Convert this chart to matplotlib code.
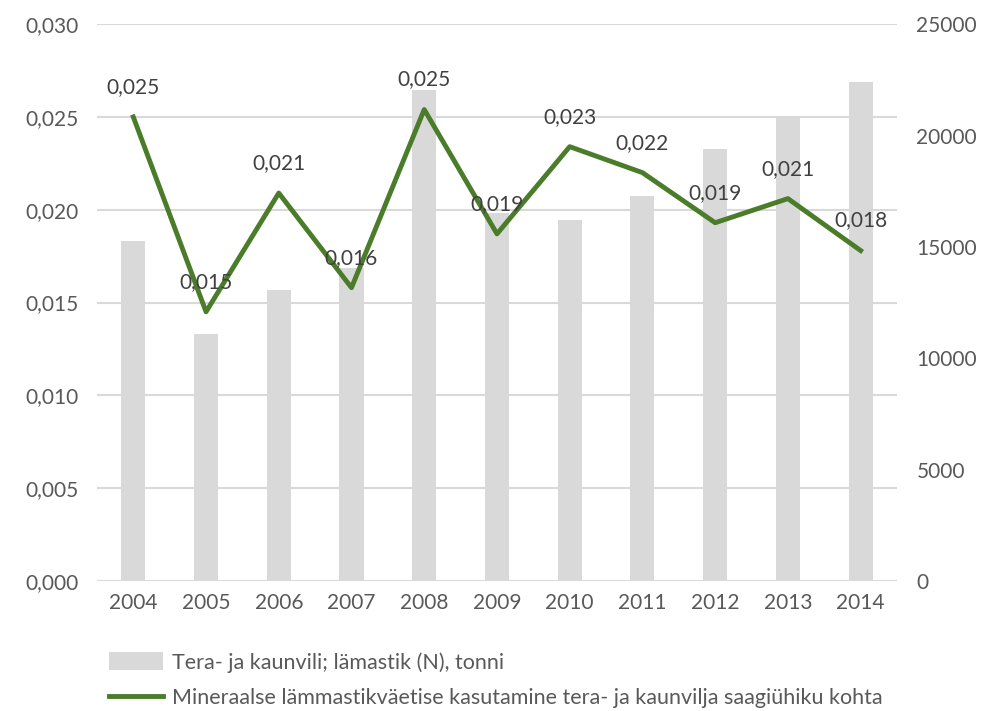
import numpy as np
import matplotlib.pyplot as plt
from matplotlib.patches import Patch
from matplotlib.lines import Line2D

plt.rcParams['font.family'] = ['Lato', 'DejaVu Sans']

years = ['2004', '2005', '2006', '2007', '2008', '2009', '2010', '2011', '2012', '2013', '2014']
nitrogen_tonnes = [15260, 11090, 13060, 14050, 22040, 16520, 16200, 17280, 19390, 20830, 22400]
usage_per_unit = [0.0250, 0.0145, 0.0209, 0.0158, 0.0254, 0.0187, 0.0234, 0.0220, 0.0193, 0.0206, 0.0178]
usage_labels = ['0,025', '0,015', '0,021', '0,016', '0,025', '0,019', '0,023', '0,022', '0,019', '0,021', '0,018']

bar_label = 'Tera- ja kaunvili; lämastik (N), tonni'
line_label = 'Mineraalse lämmastikväetise kasutamine tera- ja kaunvilja saagiühiku kohta'

text_col = '#595959'
green = '#4a7c2a'
grey = '#d9d9d9'

fig = plt.figure(figsize=(9.89, 7.11), dpi=100)
ax = fig.add_axes([0.098, 0.183, 0.809, 0.783])
ax2 = ax.twinx()

x = np.arange(len(years))

# bars on the right axis
ax2.bar(x, nitrogen_tonnes, width=0.33, color=grey, zorder=1)
ax2.set_ylim(0, 25000)
ax2.set_yticks(np.arange(0, 25001, 5000))

# line on the left axis, drawn above the bars
ax.set_zorder(ax2.get_zorder() + 1)
ax.patch.set_visible(False)
ax.plot(x, usage_per_unit, color=green, lw=3.5, zorder=3)
for xi, v, lab in zip(x, usage_per_unit, usage_labels):
    ax.annotate(lab, (xi, v), xytext=(0, 30), textcoords='offset pixels',
                ha='center', va='center', fontsize=15, color='#404040')

ax.set_ylim(0, 0.030)
ax.set_yticks(np.arange(0, 0.0301, 0.005))
ax.set_yticklabels([f'{t:.3f}'.replace('.', ',') for t in np.arange(0, 0.0301, 0.005)])
ax.set_xlim(-0.5, len(years) - 0.5)
ax.set_xticks(x)
ax.set_xticklabels(years)

# gridlines drawn on the bar axis so they sit behind the bars
for t in np.arange(0, 25001, 25000 / 6):
    ax2.axhline(t, color='#d9d9d9', lw=1.5, zorder=0)

for a in (ax, ax2):
    for s in a.spines.values():
        s.set_visible(False)
    a.tick_params(length=0, labelsize=15, colors=text_col)
ax.tick_params(axis='y', pad=13)
ax.tick_params(axis='x', pad=9)
ax2.tick_params(axis='y', pad=14)

handles = [Patch(facecolor=grey, edgecolor='none'),
           Line2D([0], [0], color=green, lw=3.5)]
fig.legend(handles, [bar_label, line_label], loc='upper left',
           bbox_to_anchor=(0.102, 0.095), frameon=False, fontsize=15.5,
           labelcolor=text_col, handlelength=2.5, handleheight=0.9,
           handletextpad=0.4, labelspacing=0.7, borderaxespad=0)

fig.savefig('out.png', dpi=100)
